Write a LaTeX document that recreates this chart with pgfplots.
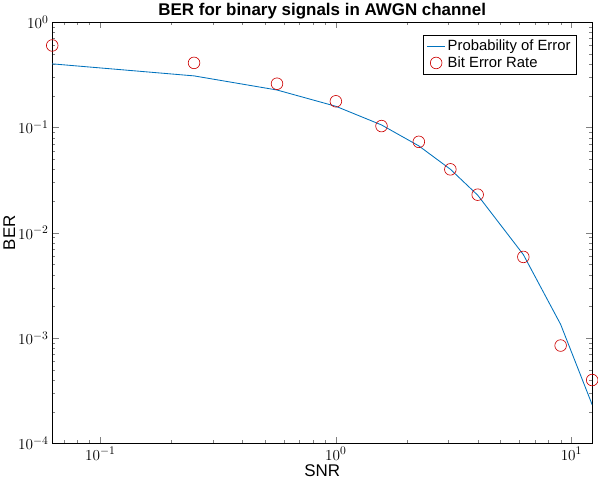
\documentclass[border=0pt]{standalone}
\usepackage{pgfplots}
\pgfplotsset{compat=1.18}
\usepackage{fontspec}
\setmainfont{Liberation Sans}
\definecolor{mblue}{rgb}{0,0.447,0.741}
\begin{document}
\begin{tikzpicture}
\begin{loglogaxis}[
  scale only axis, width=510pt, height=398pt,
  xmin=0.0625, xmax=12.25, ymin=1e-4, ymax=1,
  title={\textbf{BER for binary signals in AWGN channel}},
  xlabel={SNR}, ylabel={BER},
  tick align=inside, tick pos=both,
  major tick length=6pt, minor tick length=3pt,
  every axis plot/.append style={},
  ticklabel style={font=\fontsize{15}{18}\selectfont},
  label style={font=\fontsize{16}{19}\selectfont},
  title style={font=\fontsize{16}{19}\selectfont, yshift=-7pt},
  legend style={at={(0.97,0.97)}, anchor=north east, font=\fontsize{14}{17}\selectfont, cells={anchor=west}, inner sep=3pt},
  legend image post style={},
  ylabel style={yshift=-4pt}, xlabel style={yshift=3pt},
]
\addplot[mblue, line width=0.8pt] coordinates {(0.0625,0.4013)(0.25,0.3085)(0.5625,0.2266)(1,0.1587)(1.5625,0.1056)(2.25,0.0668)(3.0625,0.0401)(4,0.02275)(6.25,0.00621)(9,0.00135)(12.25,0.000233)};
\addlegendentry{Probability of Error}
\addplot[only marks, mark=o, red!80!black, mark size=5.5pt, mark options={line width=0.6pt}] coordinates {(0.0625,0.6)(0.25,0.41)(0.5625,0.26)(1,0.177)(1.5625,0.103)(2.25,0.073)(3.0625,0.040)(4,0.023)(6.25,0.0059)(9,0.00085)(12.25,0.0004)};
\addlegendentry{Bit Error Rate}
\end{loglogaxis}
\end{tikzpicture}
\end{document}
